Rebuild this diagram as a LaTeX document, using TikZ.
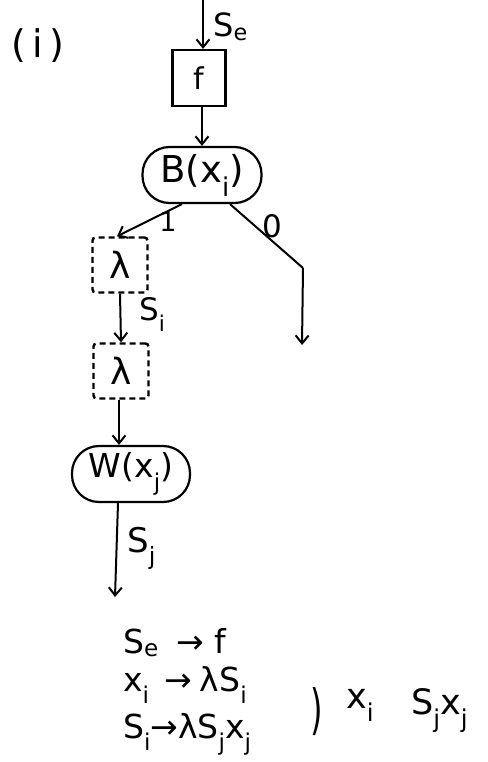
\documentclass[tikz,border=0pt]{standalone}
\usepackage{fontspec}
\setmainfont{DejaVu Sans}
\usetikzlibrary{arrows.meta,calc}
\newcommand\sbs[1]{\raisebox{-0.38em}{\scalebox{0.7}{#1}}}
\newcommand\sbe[1]{\raisebox{-0.12em}{\scalebox{0.7}{#1}}}
\newcommand\fs[1]{\fontsize{#1}{#1}\selectfont}
\begin{document}
\begin{tikzpicture}[x=1pt,y=-1pt,
  every node/.style={font=\fs{30}, inner sep=0pt},
  arr/.style={-{Straight Barb[length=8pt,width=13pt,line width=2pt]}},
  ln/.style={line width=2pt},
  solidbox/.style={draw, line width=2.2pt, minimum width=53pt, minimum height=56pt},
  dashbox/.style={draw, dash pattern=on 6pt off 4pt, line width=2.4pt, minimum width=55pt, minimum height=55pt, rounded corners=3pt, font=\fs{36}},
  oval/.style={draw, line width=2.2pt, rounded corners=27pt, minimum height=56pt},
  lab/.style={anchor=base west}]
\useasboundingbox (0,0) rectangle (487,762);
\node[font=\fs{38}] (tag) at (38,46) {(\,i\,)};
\coordinate (top) at (203,0);
\node[solidbox, font=\fs{30}] (f) at (199,78) {f};
\node[lab, font=\fs{32}] (se) at (213,37) {S\sbe{e}};
\node[oval, minimum width=119pt, font=\fs{37}] (B) at (202,175) {B(x\sbs{i})};
\node[dashbox] (l1) at (120,265) {λ};
\node[dashbox] (l2) at (121,371) {λ};
\node[oval, minimum width=118pt, font=\fs{33}] (W) at (131,474) {W(x\sbs{j})};
\coordinate (c0) at (303,268);
\coordinate (e0) at (302,345);
\coordinate (ej) at (115,597);
\node[font=\fs{27}] (one) at (168,222) {1};
\node[font=\fs{31}] (zero) at (272,226) {0};
\node[lab, font=\fs{31}] (si) at (139,320) {S\sbs{i}};
\node[lab, font=\fs{34}] (sj) at (127,552) {S\sbs{j}};
\draw[ln,arr] (top) -- ([xshift=4pt]f.north);
\draw[ln,arr] ([xshift=3pt]f.south) -- (B.north);
\draw[ln,arr] ($(B.south)+(-20,0)$) -- ([xshift=-3pt]l1.north);
\draw[ln] ($(B.south)+(28,0)$) -- (c0);
\draw[ln,arr] (c0) -- (e0);
\draw[ln,arr] (l1.south) -- (l2.north);
\draw[ln,arr] ([xshift=-2pt]l2.south) -- ([xshift=-12pt]W.north);
\draw[ln,arr] ([xshift=-13pt]W.south) -- (ej);
\node[lab, font=\fs{33}] (r1) at (123,653) {S\sbe{e}\hspace{18pt}→\hspace{10pt}f};
\node[lab, font=\fs{33}] (r2) at (123,691) {x\sbs{i}\hspace{15pt}→\hspace{8pt}λS\sbs{i}};
\node[lab, font=\fs{33}] (r3) at (123,738) {S\sbs{i}→λS\sbs{j}x\sbs{j}};
\node[font=\fs{40}] (par) at (317,712) {\scalebox{0.8}[1.35]{)}};
\node[lab, font=\fs{35}] (xi) at (346,708) {x\sbs{i}};
\node[lab, font=\fs{35}] (sx) at (411,714) {S\sbs{j}x\sbs{j}};
\end{tikzpicture}
\end{document}
